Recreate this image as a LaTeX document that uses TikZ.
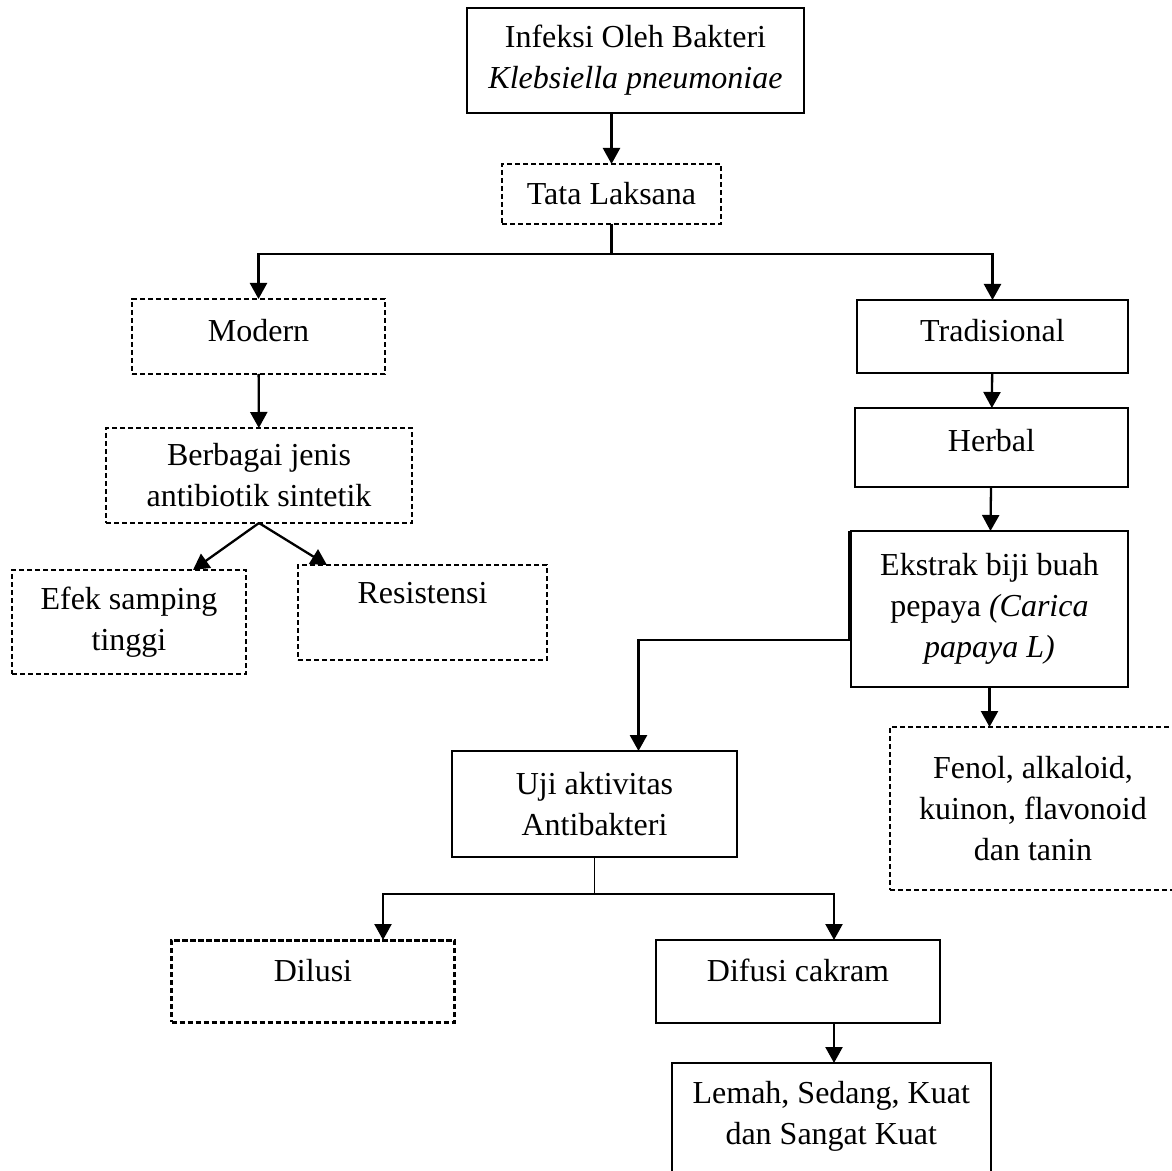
\documentclass[tikz,border=0pt]{standalone}
\usepackage{fontspec}
\setmainfont{Liberation Serif}
\usetikzlibrary{positioning,calc,arrows.meta}

\tikzset{
  solidbox/.style={draw, line width=1pt, inner sep=0pt, outer sep=0pt,
    align=center, font=\fontsize{16}{20.5}\selectfont},
  dashbox/.style={solidbox, dash pattern=on 2.6pt off 1.4pt},
  arr/.style={-{Triangle[length=8pt, width=8.5pt]}, line width=1.15pt},
}

\begin{document}
\begin{tikzpicture}[x=0.5pt, y=-0.5pt]
          \useasboundingbox (0, 0) rectangle (1172, 1171);%
          \clip (0, 0) rectangle (1172, 1171);%
          \node [solidbox, minimum width=168.5pt, minimum height=52.5pt] (infeksi) at (635.5, 60.5) {%
            Infeksi Oleh Bakteri\\%
            \textit{Klebsiella pneumoniae}};%
          \node [dashbox, minimum width=109.5pt, minimum height=30pt] (tata) at (611.5, 194) {Tata Laksana};%
          \node [dashbox, minimum width=126.5pt, minimum height=37.5pt, text depth=6pt] (modern) at (258.5, 336.5) {Modern};%
          \node [solidbox, minimum width=135.5pt, minimum height=36.5pt, text depth=6pt] (tradisional) at (992.5, 336.5) {Tradisional};%
          \node [solidbox, minimum width=136.5pt, minimum height=39.5pt, text depth=7pt] (herbal) at (991.5, 447.5) {Herbal};%
          \node [dashbox, minimum width=153pt, minimum height=47.5pt] (berbagai) at (259, 475.5) {%
            Berbagai jenis\\antibiotik sintetik};%
          \node [dashbox, minimum width=117pt, minimum height=52pt] (efek) at (129, 622) {%
            Efek samping\\tinggi};%
          \node [dashbox, minimum width=124.5pt, minimum height=47.5pt, text depth=20pt] (resistensi) at (422.5, 612.5) {Resistensi};%
          \node [solidbox, minimum width=138.5pt, minimum height=78pt] (ekstrak) at (989.5, 609) {%
            Ekstrak biji buah\\%
            pepaya \textit{(Carica}\\%
            \textit{papaya L)}};%
          \node [dashbox, minimum width=143pt, minimum height=81.5pt] (fenol) at (1033, 808.5) {%
            Fenol, alkaloid,\\kuinon, flavonoid\\dan tanin};%
          \node [solidbox, minimum width=142.5pt, minimum height=53pt] (uji) at (594.5, 804) {%
            Uji aktivitas\\Antibakteri};%
          \node [dashbox, line width=1.5pt, minimum width=141.5pt, minimum height=41pt, text depth=11pt] (dilusi) at (313, 981) {Dilusi};%
          \node [solidbox, minimum width=141.75pt, minimum height=41.5pt, text depth=11pt] (difusi) at (798, 981.5) {Difusi cakram};%
          \node [solidbox, minimum width=159.75pt, minimum height=70pt] (lemah) at (831.25, 1133) {%
            Lemah, Sedang, Kuat\\dan Sangat Kuat\\~};%
          % connectors
          \draw [arr] (infeksi.south -| tata.north) -- (tata.north);%
          \draw [line width=1.15pt] (tata.south) -- ++(0, 30) coordinate (tatabar);%
          \draw [arr] (tatabar) -| (modern.north);%
          \draw [arr] (tatabar) -| (tradisional.north);%
          \draw [arr] (modern) -- (berbagai);%
          \draw [arr] (berbagai.south) -- ([xshift=32pt]efek.north);%
          \draw [arr] (berbagai.south) -- ([xshift=14.5pt]resistensi.north west);%
          \draw [arr] (tradisional) -- (herbal);%
          \draw [arr] (herbal) -- (ekstrak);%
          \draw [arr] (ekstrak.south) -- (fenol.north -| ekstrak.south);%
          \draw [arr, line width=1.4pt] ([xshift=-0.8pt]ekstrak.north west) -- ++(0, 109) -| ([xshift=22pt]uji.north);%
          \draw [line width=0.6pt] (uji.south) -- ++(0, 37) coordinate (ujibar);%
          \draw [arr] (ujibar) -| ([xshift=35pt]dilusi.north);%
          \draw [arr] (ujibar) -| ([xshift=18pt]difusi.north);%
          \draw [arr] ([xshift=18pt]difusi.south) -- ([xshift=18pt]difusi.south |- lemah.north);%
        \end{tikzpicture}
\end{document}
